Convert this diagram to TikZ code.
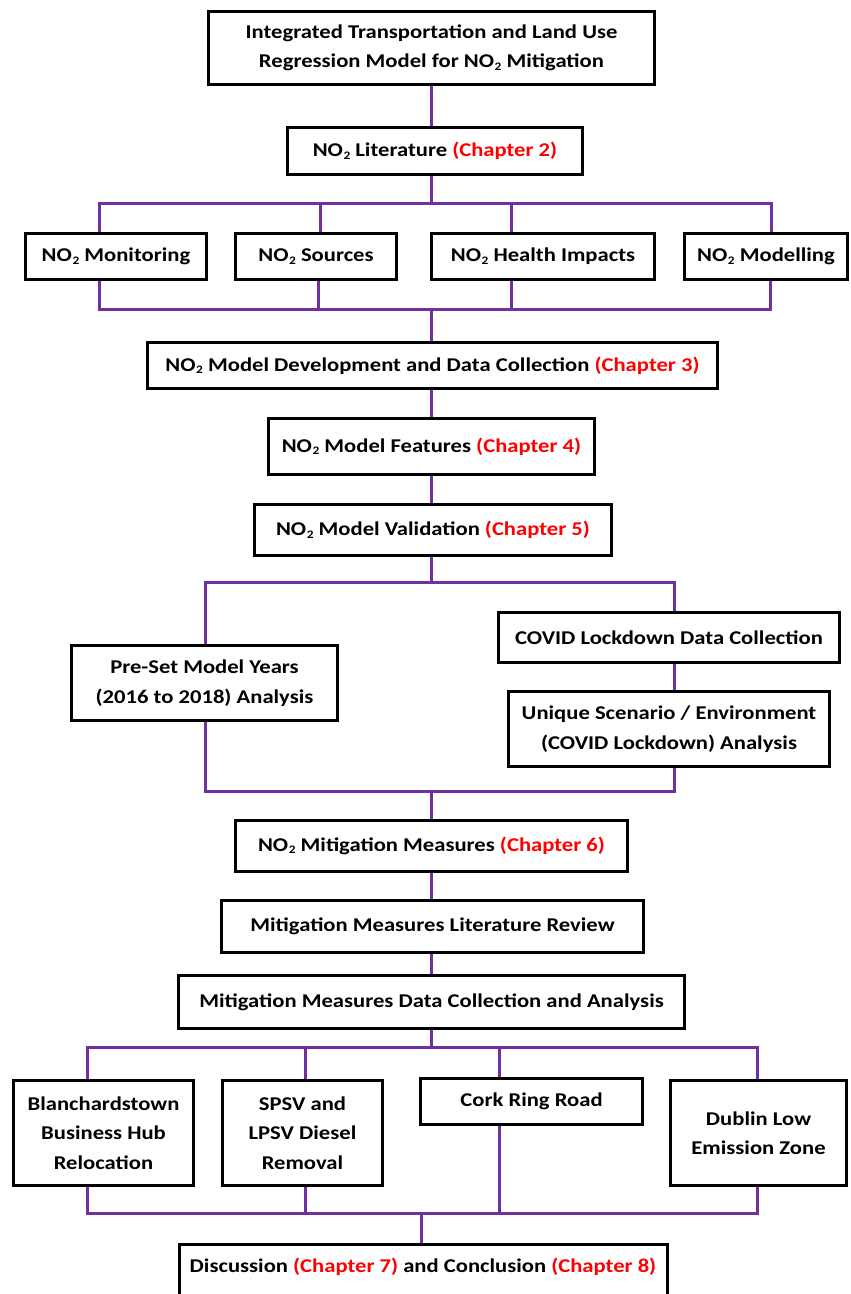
\documentclass[tikz,border=0pt]{standalone}
\usepackage{fontspec}
\setmainfont{Carlito}[FakeStretch=1.16]
\usetikzlibrary{backgrounds}
\definecolor{pur}{HTML}{7030A0}
\definecolor{chred}{HTML}{FF0000}
\newcommand{\NOt}{NO\kern0.03em\raisebox{-0.12em}{\fontsize{11.5}{11.5}\selectfont 2}}
\newcommand{\chp}[1]{\textcolor{chred}{(Chapter #1)}}
\begin{document}
\begin{tikzpicture}[x=1pt,y=-1pt,
  bx/.style={draw=black, line width=3pt, rectangle, inner sep=0pt, align=center,
    font=\fontsize{19.5}{29.5}\selectfont\bfseries, fill=white},
  pl/.style={draw=pur, line width=3pt}]
\useasboundingbox (0,0) rectangle (851,1294);

\node[bx, minimum width=446, minimum height=73] (top) at (431.5,48)
  {Integrated Transportation and Land Use\\Regression Model for \NOt{} Mitigation};
\node[bx, minimum width=295, minimum height=47] (lit) at (435,151) {\NOt{} Literature \chp{2}};
\node[bx, minimum width=181, minimum height=46] (mon) at (116,256.5) {\NOt{} Monitoring};
\node[bx, minimum width=161, minimum height=46] (src) at (316,256.5) {\NOt{} Sources};
\node[bx, minimum width=223, minimum height=46] (hlt) at (543,256.5) {\NOt{} Health Impacts};
\node[bx, minimum width=163, minimum height=46] (mdl) at (766,256.5) {\NOt{} Modelling};
\node[bx, minimum width=570, minimum height=46] (dev) at (432.5,365.5) {\NOt{} Model Development and Data Collection \chp{3}};
\node[bx, minimum width=326, minimum height=56] (fea) at (431.5,446.5) {\NOt{} Model Features \chp{4}};
\node[bx, minimum width=357, minimum height=51] (val) at (433,530) {\NOt{} Model Validation \chp{5}};
\node[bx, minimum width=266, minimum height=75] (pre) at (204.5,683) {Pre-Set Model Years\\(2016 to 2018) Analysis};
\node[bx, minimum width=341, minimum height=50] (cov) at (669,637.5) {COVID Lockdown Data Collection};
\node[bx, minimum width=321, minimum height=75] (uni) at (669,729) {Unique Scenario / Environment\\(COVID Lockdown) Analysis};
\node[bx, minimum width=392, minimum height=51] (mit) at (431.5,846) {\NOt{} Mitigation Measures \chp{6}};
\node[bx, minimum width=422, minimum height=52] (rev) at (432.5,926.5) {Mitigation Measures Literature Review};
\node[bx, minimum width=506, minimum height=53] (dat) at (431.5,1002) {Mitigation Measures Data Collection and Analysis};
\node[bx, minimum width=180, minimum height=105] (bla) at (103.5,1133) {Blanchardstown\\Business Hub\\Relocation};
\node[bx, minimum width=160, minimum height=105] (sps) at (302.5,1133) {SPSV and\\LPSV Diesel\\Removal};
\node[bx, minimum width=222, minimum height=46] (crk) at (531.5,1101.5) {Cork Ring Road};
\node[bx, minimum width=176, minimum height=105] (dub) at (758.5,1133) {Dublin Low\\Emission Zone};
\node[bx, minimum width=488, text height=20, text depth=60, inner ysep=8.5, anchor=base] (fin) at (423,1272.5)
  {Discussion \chp{7} and Conclusion \chp{8}};

\coordinate (a1) at (99,203);  \coordinate (a2) at (320,203);
\coordinate (a3) at (511,203); \coordinate (a4) at (771,203);
\coordinate (b1) at (99,309);  \coordinate (b2) at (318,309);
\coordinate (b3) at (511,309); \coordinate (b4) at (770,309);
\coordinate (c1) at (205,582); \coordinate (c2) at (674,582);
\coordinate (d1) at (205,791); \coordinate (d2) at (674,791);
\coordinate (e1) at (87,1047);  \coordinate (e2) at (305,1047);
\coordinate (e3) at (499,1047); \coordinate (e4) at (757,1047);
\coordinate (f1) at (87,1213);  \coordinate (f2) at (305,1213);
\coordinate (f3) at (499,1213); \coordinate (f4) at (757,1213);
\coordinate (f0) at (421,1213);

\begin{scope}[on background layer]
\draw[pl] (top.south) -- (top.south |- lit.north);
\draw[pl] (top.south |- lit.south) -- (top.south |- a1);
\draw[pl] (a1 |- mon.north) -- (a1) -- (a4) -- (a4 |- mdl.north);
\draw[pl] (a2) -- (a2 |- src.north);
\draw[pl] (a3) -- (a3 |- hlt.north);
\draw[pl] (b1 |- mon.south) -- (b1) -- (b4) -- (b4 |- mdl.south);
\draw[pl] (b2 |- src.south) -- (b2);
\draw[pl] (b3 |- hlt.south) -- (b3);
\draw[pl] (top.south |- b1) -- (top.south |- dev.north);
\draw[pl] (top.south |- dev.south) -- (top.south |- fea.north);
\draw[pl] (top.south |- fea.south) -- (top.south |- val.north);
\draw[pl] (top.south |- val.south) -- (top.south |- c1);
\draw[pl] (c1 |- pre.north) -- (c1) -- (c2) -- (c2 |- cov.north);
\draw[pl] (c2 |- cov.south) -- (c2 |- uni.north);
\draw[pl] (d1 |- pre.south) -- (d1) -- (d2) -- (d2 |- uni.south);
\draw[pl] (top.south |- d1) -- (top.south |- mit.north);
\draw[pl] (top.south |- mit.south) -- (top.south |- rev.north);
\draw[pl] (top.south |- rev.south) -- (top.south |- dat.north);
\draw[pl] (top.south |- dat.south) -- (top.south |- e1);
\draw[pl] (e1 |- bla.north) -- (e1) -- (e4) -- (e4 |- dub.north);
\draw[pl] (e2) -- (e2 |- sps.north);
\draw[pl] (e3) -- (e3 |- crk.north);
\draw[pl] (f1 |- bla.south) -- (f1) -- (f4) -- (f4 |- dub.south);
\draw[pl] (f2 |- sps.south) -- (f2);
\draw[pl] (f3 |- crk.south) -- (f3);
\draw[pl] (f0) -- (f0 |- fin.north);
\end{scope}
\end{tikzpicture}
\end{document}
